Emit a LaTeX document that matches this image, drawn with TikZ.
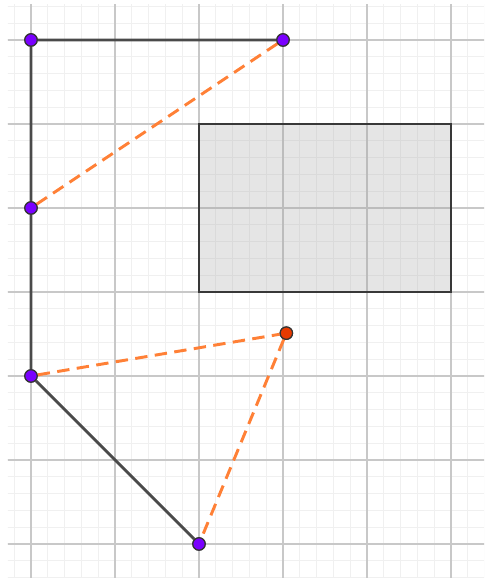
\documentclass[tikz,border=0pt]{standalone}
\definecolor{minorgrid}{HTML}{F0F0F0}
\definecolor{majorgrid}{HTML}{C8C8C8}
\definecolor{seg}{HTML}{4A4A4A}
\definecolor{dashc}{HTML}{FF8036}
\definecolor{ptpurple}{HTML}{7A00FF}
\definecolor{ptred}{HTML}{E83A00}
\definecolor{rectfill}{HTML}{999999}
\definecolor{rectedge}{HTML}{383838}
\begin{document}
\begin{tikzpicture}[x=1cm,y=1cm,
  segline/.style={draw=seg,line width=0.95pt},
  dashline/.style={draw=dashc,line width=1pt,dash pattern=on 4.2pt off 2.5pt},
  pt/.style={circle,draw=black!80,line width=0.4pt,fill=ptpurple,inner sep=0pt,minimum size=4.2pt},
  redpt/.style={circle,draw=black!80,line width=0.4pt,fill=ptred,inner sep=0pt,minimum size=4.2pt}]
\useasboundingbox (-0.369,-0.405) rectangle (5.393,6.476);
\begin{scope}
\clip (-0.274,-0.405) rectangle (5.393,6.417);
\draw[minorgrid,line width=0.35pt] (-0.4,-0.6) grid[step=0.2] (5.6,6.6);
\draw[majorgrid,line width=0.45pt] (-1,-1) grid[step=1] (6,7);
\end{scope}
\fill[rectfill,opacity=0.25] (2,3) rectangle (5,5);
\draw[draw=rectedge,line width=0.95pt] (2,3) rectangle (5,5);
\node[pt] (A) at (0,6) {};
\node[pt] (B) at (3,6) {};
\node[pt] (C) at (0,4) {};
\node[pt] (D) at (0,2) {};
\node[pt] (E) at (2,0) {};
\node[redpt] (F) at (3.04,2.51) {};
\draw[segline] (B) -- (A) -- (C) -- (D) -- (E);
\draw[dashline] (B) -- (C);
\draw[dashline] (D) -- (F) -- (E);
\node[pt] at (A) {};
\node[pt] at (B) {};
\node[pt] at (C) {};
\node[pt] at (D) {};
\node[pt] at (E) {};
\node[redpt] at (F) {};
\end{tikzpicture}
\end{document}
